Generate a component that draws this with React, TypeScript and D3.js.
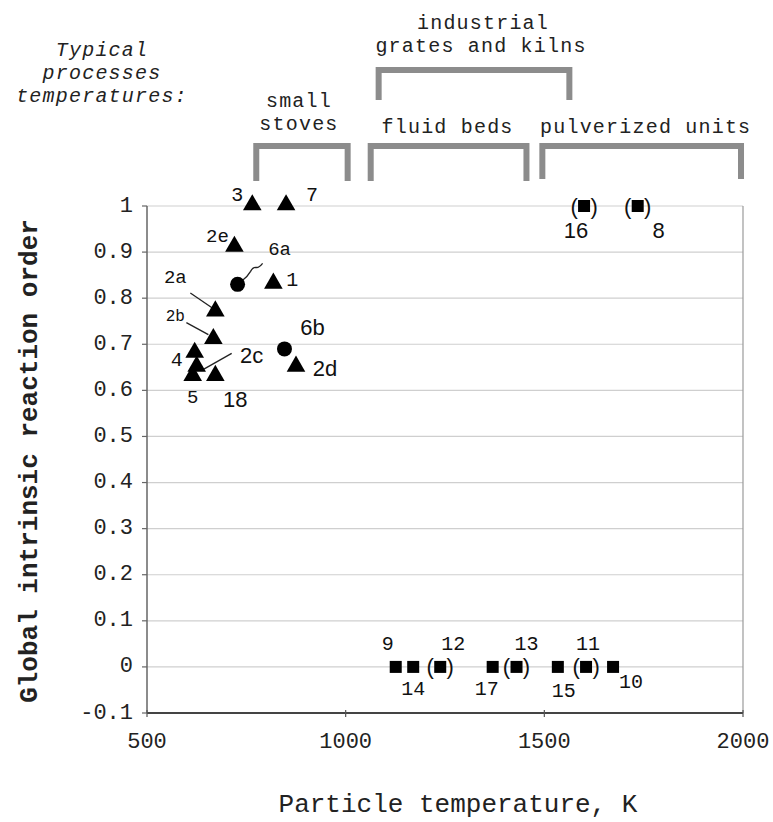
import React from "react";
import * as d3 from "d3";

// Triangles: global intrinsic reaction order vs particle temperature
const triLabels = ["3", "7", "2e", "1", "2a", "2b", "4", "2c", "5", "18", "2d"];
const triTemps = [765, 850, 720, 818, 672, 667, 620, 625, 615, 672, 875];
const triOrders = [1.0, 1.0, 0.91, 0.83, 0.77, 0.71, 0.68, 0.65, 0.63, 0.63, 0.65];

// Circles
const cirLabels = ["6a", "6b"];
const cirTemps = [728, 846];
const cirOrders = [0.83, 0.69];

// Squares (bracketed values shown in parentheses)
const sqLabels = ["16", "8", "9", "14", "12", "17", "13", "15", "11", "10"];
const sqTemps = [1600, 1735, 1126, 1170, 1238, 1370, 1430, 1534, 1605, 1673];
const sqOrders = [1, 1, 0, 0, 0, 0, 0, 0, 0, 0];
const sqBracketed = [true, true, false, false, true, false, true, false, true, false];

const xTicks = [500, 1000, 1500, 2000];
const yTicks = [-0.1, 0, 0.1, 0.2, 0.3, 0.4, 0.5, 0.6, 0.7, 0.8, 0.9, 1];

// Process temperature ranges
const procNames = ["small stoves", "fluid beds", "pulverized units", "industrial grates and kilns"];
const procFrom = [775, 1063, 1495, 1083];
const procTo = [1005, 1455, 1995, 1563];

const MONO = "'Liberation Mono', 'Courier New', monospace";
const SANS = "'Liberation Sans', Arial, sans-serif";

// label placement relative to the marker: [dx, dy, font, size]
const labelLayout: Record<string, [number, number, string, number]> = {
  "3": [-15, -11, MONO, 20],
  "7": [26, -11, MONO, 20],
  "2e": [-17, -10, MONO, 19],
  "1": [19, -4, MONO, 20],
  "2a": [-40, -34, MONO, 19],
  "2b": [-38, -23, MONO, 16],
  "4": [-18, 7, MONO, 20],
  "2c": [55, -12, SANS, 22],
  "5": [0, 21, MONO, 19],
  "18": [20, 23, SANS, 22],
  "2d": [29, 1, SANS, 22],
  "6a": [42, -34, MONO, 19],
  "6b": [28, -21, SANS, 22],
  "16": [-8, 24, SANS, 22],
  "8": [21, 24, SANS, 22],
  "9": [-8, -22, MONO, 20],
  "14": [0, 23, MONO, 20],
  "12": [13, -22, MONO, 20],
  "17": [-6, 23, MONO, 20],
  "13": [10, -22, MONO, 20],
  "15": [6, 25, MONO, 20],
  "11": [2, -22, MONO, 20],
  "10": [18, 16, MONO, 20],
};

// leader lines from label to marker: [x1, y1, x2, y2] relative to marker
const leaders: Record<string, number[]> = {
  "2a": [-25, -19, -3, -4],
  "2b": [-27, -17, -5, -5],
  "2c": [35, -14, 5, 3],
};

export default function App() {
  const W = 773, H = 822;
  const x = d3.scaleLinear().domain([500, 2000]).range([147, 743]);
  const y = d3.scaleLinear().domain([-0.1, 1]).range([713, 206]);
  const tri = d3.symbol().type(d3.symbolTriangle).size(150);

  const label = (name: string, px: number, py: number) => {
    const [dx, dy, font, size] = labelLayout[name];
    return (
      <text key={"l" + name} x={px + dx} y={py + dy} fontFamily={font} fontSize={size}
        textAnchor="middle" dominantBaseline="central" fill="#111">{name}</text>
    );
  };

  const bracket = (i: number, top: number, bottom: number) => {
    const x0 = x(procFrom[i]);
    const x1 = x(procTo[i]);
    return (
      <path key={"b" + i} d={`M${x0},${bottom}V${top}H${x1}V${bottom}`} fill="none"
        stroke="#8c8c8c" strokeWidth={6} />
    );
  };

  const bx = (i: number) => (x(procFrom[i]) + x(procTo[i])) / 2;

  return (
    <svg width={W} height={H} style={{ position: "absolute", left: 0, top: 0, background: "#fff" }}>
      {/* grid */}
      {yTicks.map((t) => (
        <line key={"g" + t} x1={x(500)} x2={x(2000)} y1={y(t)} y2={y(t)} stroke="#cfcfcf" strokeWidth={1.2} />
      ))}
      <line x1={x(2000)} x2={x(2000)} y1={y(1)} y2={y(-0.1)} stroke="#9a9a9a" strokeWidth={1.2} />
      {/* axes */}
      <line x1={x(500)} x2={x(500)} y1={y(1)} y2={y(-0.1)} stroke="#666" strokeWidth={1.5} />
      <line x1={x(500)} x2={x(2000)} y1={y(-0.1)} y2={y(-0.1)} stroke="#444" strokeWidth={1.8} />
      {yTicks.map((t) => (
        <g key={"yt" + t}>
          <line x1={x(500) - 5} x2={x(500)} y1={y(t)} y2={y(t)} stroke="#666" strokeWidth={1.2} />
          <text x={133} y={y(t)} textAnchor="end" dominantBaseline="central" fontFamily={MONO}
            fontSize={22} fill="#222">{t === 0 ? "0" : t < 0 ? "-0.1" : t === 1 ? "1" : d3.format(".1f")(t)}</text>
        </g>
      ))}
      {xTicks.map((t) => (
        <g key={"xt" + t}>
          <line x1={x(t)} x2={x(t)} y1={y(-0.1) - 3} y2={y(-0.1) + 4} stroke="#555" strokeWidth={1.2} />
          <text x={x(t)} y={748} textAnchor="middle" fontFamily={MONO} fontSize={22} fill="#222">{t}</text>
        </g>
      ))}
      {/* axis titles */}
      <text x={458} y={812} textAnchor="middle" fontFamily={MONO} fontSize={26} fill="#222">Particle temperature, K</text>
      <text transform={`translate(37,461) rotate(-90)`} textAnchor="middle" fontFamily={MONO}
        fontSize={26} fontWeight="bold" fill="#222">Global intrinsic reaction order</text>

      {/* process temperature ranges */}
      <g fontFamily={MONO} fontSize={20} letterSpacing={1.2} fill="#222" textAnchor="middle">
        <text x={102} y={56} fontStyle="italic">Typical</text>
        <text x={102} y={79} fontStyle="italic">processes</text>
        <text x={102} y={102} fontStyle="italic">temperatures:</text>
        <text x={bx(0) - 3} y={107}>small</text>
        <text x={bx(0) - 3} y={130}>stoves</text>
        <text x={bx(1) - 1} y={133}>fluid beds</text>
        <text x={bx(2) + 4} y={133}>pulverized units</text>
        <text x={bx(3) + 9} y={29}>industrial</text>
        <text x={bx(3) + 7} y={52}>grates and kilns</text>
      </g>
      {bracket(0, 146, 181)}
      {bracket(1, 146, 181)}
      {bracket(2, 146, 179)}
      {bracket(3, 70, 100)}

      {/* leader lines */}
      {triLabels.map((n, i) =>
        leaders[n] ? (
          <line key={"ld" + n} x1={x(triTemps[i]) + leaders[n][0]} y1={y(triOrders[i]) + leaders[n][1]}
            x2={x(triTemps[i]) + leaders[n][2]} y2={y(triOrders[i]) + leaders[n][3]} stroke="#222" strokeWidth={1.3} />
        ) : null
      )}
      {(() => {
        const cx = x(cirTemps[0]);
        const cy = y(cirOrders[0]);
        return (
          <path d={`M${cx + 25},${cy - 21} q-4,5 -7,4 q-3,0 -5,4 q-3,5 -8,9`} fill="none" stroke="#222" strokeWidth={1.3} />
        );
      })()}

      {/* triangles */}
      {triLabels.map((n, i) => (
        <path key={"t" + n} d={tri() as string} transform={`translate(${x(triTemps[i])},${y(triOrders[i]) - 1})`} fill="#000" />
      ))}
      {triLabels.map((n, i) => label(n, x(triTemps[i]), y(triOrders[i])))}

      {/* circles */}
      {cirLabels.map((n, i) => (
        <circle key={"c" + n} cx={x(cirTemps[i])} cy={y(cirOrders[i])} r={7.5} fill="#000" />
      ))}
      {cirLabels.map((n, i) => label(n, x(cirTemps[i]), y(cirOrders[i])))}

      {/* squares */}
      {sqLabels.map((n, i) => {
        const px = x(sqTemps[i]);
        const py = y(sqOrders[i]);
        return (
          <g key={"s" + n}>
            <rect x={px - 6} y={py - 6} width={12} height={12} fill="#000" />
            {sqBracketed[i] && (
              <>
                <text x={px - 10} y={py} textAnchor="middle" dominantBaseline="central" fontFamily={SANS} fontSize={22} fill="#111">(</text>
                <text x={px + 10} y={py} textAnchor="middle" dominantBaseline="central" fontFamily={SANS} fontSize={22} fill="#111">)</text>
              </>
            )}
            {label(n, px, py)}
          </g>
        );
      })}
    </svg>
  );
}
